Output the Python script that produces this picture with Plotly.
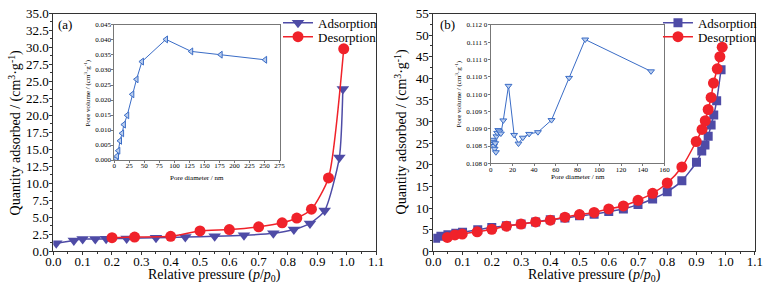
import plotly.graph_objects as go

# ---------------- data ----------------
# (a) main isotherm
a_ads_p = [0.01, 0.07, 0.10, 0.143, 0.18, 0.25, 0.35, 0.45, 0.55, 0.65, 0.75, 0.82, 0.875, 0.925, 0.975, 0.987]
a_ads_q = [1.2, 1.6, 1.8, 1.8, 1.85, 1.9, 2.0, 2.1, 2.2, 2.35, 2.65, 3.2, 4.1, 6.0, 13.8, 23.9]
a_des_p = [0.20, 0.277, 0.40, 0.50, 0.60, 0.70, 0.78, 0.83, 0.88, 0.938, 0.99]
a_des_q = [2.0, 2.1, 2.2, 3.0, 3.2, 3.6, 4.2, 4.9, 6.2, 10.8, 29.8]
# (a) inset pore-size distribution
a_pore_d = [2.0, 3.0, 4.5, 6.7, 9.5, 13, 16, 21.5, 30, 37, 46, 86, 128, 177, 251]
a_pore_v = [0.0002, 0.0005, 0.0013, 0.0031, 0.0064, 0.0089, 0.0118, 0.0149, 0.0219, 0.0269, 0.0328, 0.0402, 0.0362, 0.0351, 0.0334]

# (b) main isotherm
b_ads_p = [0.008, 0.026, 0.05, 0.077, 0.10, 0.152, 0.20, 0.25, 0.30, 0.35, 0.40, 0.45, 0.50, 0.55, 0.60,
           0.65, 0.70, 0.75, 0.80, 0.85, 0.90, 0.918, 0.929, 0.94, 0.95, 0.959, 0.969, 0.984]
b_ads_q = [3.0, 3.5, 3.85, 4.15, 4.4, 5.0, 5.5, 5.9, 6.3, 6.8, 7.3, 7.7, 8.2, 8.6, 9.2,
           9.8, 10.8, 12.1, 13.8, 16.3, 20.6, 23.2, 24.6, 26.6, 29.2, 31.5, 34.8, 42.0]
b_des_p = [0.048, 0.074, 0.099, 0.15, 0.20, 0.25, 0.30, 0.35, 0.40, 0.45, 0.50, 0.55, 0.60, 0.65,
           0.70, 0.75, 0.80, 0.85, 0.899, 0.919, 0.93, 0.94, 0.95, 0.958, 0.971, 0.98, 0.988]
b_des_q = [3.2, 3.8, 4.0, 4.5, 5.1, 5.8, 6.3, 6.8, 7.2, 7.9, 8.5, 9.0, 9.8, 10.5,
           11.8, 13.4, 15.8, 19.5, 25.4, 28.2, 30.2, 32.8, 35.6, 38.9, 42.2, 45.0, 47.2]
# (b) inset pore-size distribution
b_pore_d = [1.8, 2.4, 3.0, 3.6, 4.2, 4.8, 5.3, 6.0, 7.0, 8.2, 9.4, 11.6, 16.4, 21.6, 25.6,
            29.6, 35.4, 43.5, 56.0, 72.2, 87.0, 147.6]
b_pore_v = [0.10868, 0.10862, 0.10850, 0.10842, 0.10858, 0.10832, 0.10878, 0.10888, 0.10896, 0.10892,
            0.10886, 0.10924, 0.11024, 0.10882, 0.10857, 0.10874, 0.10885, 0.10890, 0.10925, 0.11047,
            0.11158, 0.11066]

b_inset_ticks = [0.1080, 0.1085, 0.1090, 0.1095, 0.1100, 0.1105, 0.1110, 0.1115, 0.1120]
b_inset_ticktext = ["0.108 0", "0.108 5", "0.109 0", "0.109 5", "0.110 0", "0.110 5", "0.111 0", "0.111 5", "0.112 0"]

# ---------------- style ----------------
SERIF = "Liberation Serif, Times New Roman, DejaVu Serif, serif"
ADS = "#4E4BA6"
DES = "#F0222A"
PSD = "#3A6CC6"
PSD_FILL = "#B9CDEE"

fig = go.Figure()

fig.add_trace(go.Scatter(x=a_ads_p, y=a_ads_q, name="Adsorption", mode="lines+markers",
                         line=dict(color=ADS, width=1.5, shape="spline", smoothing=0.6),
                         marker=dict(symbol="triangle-down", size=11, color=ADS),
                         xaxis="x", yaxis="y", legend="legend"))
fig.add_trace(go.Scatter(x=a_des_p, y=a_des_q, name="Desorption", mode="lines+markers",
                         line=dict(color=DES, width=1.5, shape="spline", smoothing=0.6),
                         marker=dict(symbol="circle", size=11, color=DES),
                         xaxis="x", yaxis="y", legend="legend2"))
fig.add_trace(go.Scatter(x=b_ads_p, y=b_ads_q, name="Adsorption", mode="lines+markers",
                         line=dict(color=ADS, width=1.5, shape="spline", smoothing=0.6),
                         marker=dict(symbol="square", size=9, color=ADS),
                         xaxis="x2", yaxis="y2", legend="legend3"))
fig.add_trace(go.Scatter(x=b_des_p, y=b_des_q, name="Desorption", mode="lines+markers",
                         line=dict(color=DES, width=1.5, shape="spline", smoothing=0.6),
                         marker=dict(symbol="circle", size=11, color=DES),
                         xaxis="x2", yaxis="y2", legend="legend4"))
fig.add_trace(go.Scatter(x=a_pore_d, y=a_pore_v, mode="lines+markers", showlegend=False,
                         line=dict(color=PSD, width=1),
                         marker=dict(symbol="triangle-left", size=6, color=PSD_FILL,
                                     line=dict(color=PSD, width=1)),
                         xaxis="x3", yaxis="y3"))
fig.add_trace(go.Scatter(x=b_pore_d, y=b_pore_v, mode="lines+markers", showlegend=False,
                         line=dict(color=PSD, width=1),
                         marker=dict(symbol="triangle-down", size=6, color=PSD_FILL,
                                     line=dict(color=PSD, width=1)),
                         xaxis="x4", yaxis="y4"))

main_tick = dict(family=SERIF, size=13, color="black")
axis_common = dict(showline=True, linecolor="#333333", linewidth=1, mirror=True,
                   ticks="outside", ticklen=3, tickcolor="#333333", showgrid=False,
                   zeroline=False, tickfont=main_tick, automargin=False)

inset_tick = dict(family=SERIF, size=7, color="black")
inset_common = dict(showline=True, linecolor="#777777", linewidth=1, mirror=True,
                    ticks="outside", ticklen=2, tickcolor="#777777", showgrid=False,
                    zeroline=False, tickfont=inset_tick, automargin=False)

leg_common = dict(xanchor="left", yanchor="middle", bgcolor="rgba(0,0,0,0)",
                  font=dict(family=SERIF, size=13, color="black"), itemwidth=30)

xtitle = "Relative pressure (<i>p</i>/<i>p</i><sub>0</sub>)"
ytitle = "Quantity adsorbed / (cm<sup>3</sup>·g<sup>-1</sup>)"
ins_xtitle = "Pore diameter / nm"
ins_ytitle = "Pore volume / (cm<sup>3</sup>·g<sup>-1</sup>)"


def label(text, x, y, size, angle=0):
    return dict(text=text, x=x, y=y, xref="paper", yref="paper", showarrow=False,
                xanchor="center", yanchor="middle", textangle=angle,
                font=dict(family=SERIF, size=size, color="black"))


fig.update_layout(
    width=765, height=288,
    margin=dict(l=0, r=0, t=0, b=0, autoexpand=False),
    paper_bgcolor="white", plot_bgcolor="white",
    font=dict(family=SERIF, color="black"),
    xaxis=dict(domain=[0.0697, 0.4915], range=[0, 1.1], dtick=0.1, tickformat=".1f", anchor="y",
               ticklabelstandoff=-5,
               minor=dict(ticks="outside", ticklen=2, dtick=0.05, tickcolor="#333333"),
               **axis_common),
    yaxis=dict(domain=[0.1274, 0.9531], range=[0, 35], dtick=2.5, tickformat=".1f", anchor="x",
               ticklabelstandoff=-2,
               minor=dict(ticks="outside", ticklen=2, dtick=1.25, tickcolor="#333333"),
               **axis_common),
    xaxis2=dict(domain=[0.5664, 0.9869], range=[0, 1.1], dtick=0.1, tickformat=".1f", anchor="y2",
                ticklabelstandoff=-5,
                minor=dict(ticks="outside", ticklen=2, dtick=0.05, tickcolor="#333333"),
                **axis_common),
    yaxis2=dict(domain=[0.1274, 0.9531], range=[0, 55], dtick=5, anchor="x2",
                ticklabelstandoff=-2,
                minor=dict(ticks="outside", ticklen=2, dtick=2.5, tickcolor="#333333"),
                **axis_common),
    xaxis3=dict(domain=[0.1494, 0.3654], range=[0, 275], dtick=25, anchor="y3",
                ticklabelstandoff=-3, **inset_common),
    yaxis3=dict(domain=[0.4444, 0.9132], range=[0, 0.045], dtick=0.005, tickformat=".3f",
                anchor="x3", ticklabelstandoff=-1, **inset_common),
    xaxis4=dict(domain=[0.6414, 0.8686], range=[0, 160], dtick=20, anchor="y4",
                ticklabelstandoff=-3, **inset_common),
    yaxis4=dict(domain=[0.433, 0.9132], range=[0.108, 0.112], tickvals=b_inset_ticks,
                ticktext=b_inset_ticktext, anchor="x4", ticklabelstandoff=-1, **inset_common),
    legend=dict(x=0.3634, y=0.9212, **leg_common),
    legend2=dict(x=0.3634, y=0.8726, **leg_common),
    legend3=dict(x=0.8601, y=0.9212, **leg_common),
    legend4=dict(x=0.8601, y=0.8726, **leg_common),
    annotations=[
        label("(a)", 0.085, 0.9132, 13),
        label("(b)", 0.5852, 0.9132, 13),
        label(xtitle, 0.2804, 0.0417, 14),
        label(xtitle, 0.7765, 0.0417, 14),
        label(ytitle, 0.0196, 0.5403, 14, -90),
        label(ytitle, 0.5242, 0.5403, 14, -90),
        label(ins_xtitle, 0.2574, 0.382, 7),
        label(ins_xtitle, 0.755, 0.3844, 7),
        label(ins_ytitle, 0.115, 0.6788, 7, -90),
        label(ins_ytitle, 0.5991, 0.673, 7, -90),
    ],
)

fig.write_html("out.html",
               config={"displayModeBar": False},
               post_script="document.body.style.margin='0px';document.body.style.padding='0px';")
